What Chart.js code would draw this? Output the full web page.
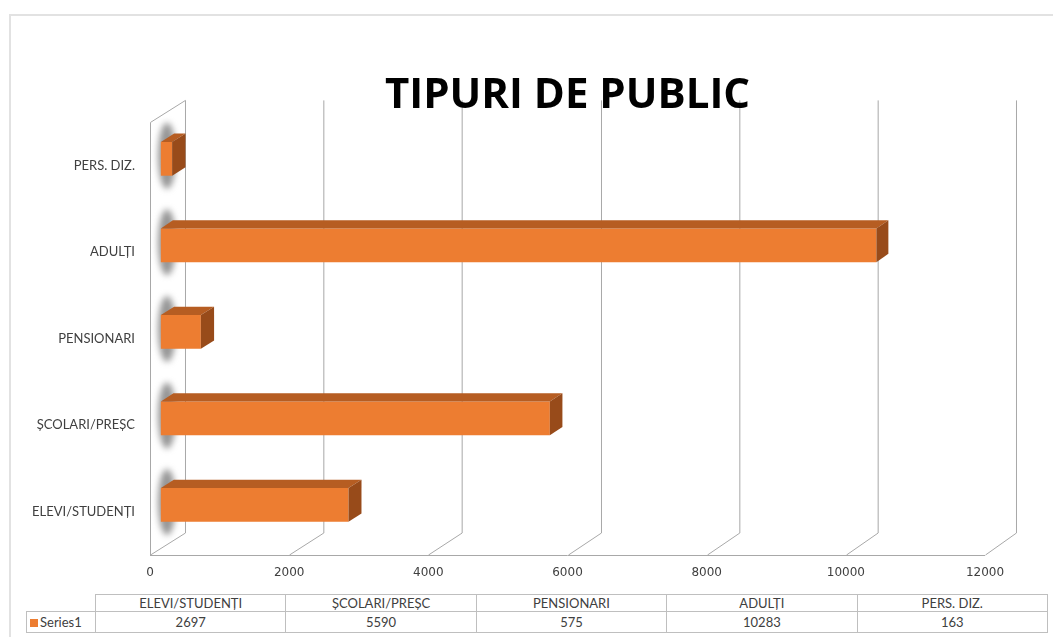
<!DOCTYPE html>
<html>
<head>
<meta charset="utf-8">
<script src="https://cdn.jsdelivr.net/npm/chart.js@4.4.1/dist/chart.umd.min.js"></script>
<style>
body { margin: 0; background: #fff; }
#frame { position: absolute; left: 9px; top: 14px; width: 1100px; height: 700px; border-left: 2px solid #e2e2e2; border-top: 2px solid #e2e2e2; }
#wrap { position: absolute; left: 0; top: 0; width: 1053px; height: 590px; }
#datatable { position: absolute; left: 26px; top: 594px; border-collapse: collapse; table-layout: fixed; width: 1021px;
  font-family: Lato, sans-serif; font-size: 13px; color: #404040; }
#datatable td { border: 1px solid #bfbfbf; text-align: center; padding: 0; white-space: nowrap; }
#datatable tr.head td { height: 16px; line-height: 16px; }
#datatable tr.vals td { height: 20px; line-height: 20px; }
#datatable td.blank { border: none; }
#datatable td.series { text-align: left; padding-left: 3px; }
.swatch { display: inline-block; width: 8px; height: 8px; background: #ED7D31; margin-right: 2px; }
</style>
</head>
<body>
<div id="frame"></div>
<div id="wrap"><canvas id="chart" width="1053" height="590"></canvas></div>
<table id="datatable">
  <colgroup id="cols"></colgroup>
  <tr class="head" id="headrow"></tr>
  <tr class="vals" id="valrow"></tr>
</table>
<script>
// data
const categories = ['ELEVI/STUDENȚI', 'ȘCOLARI/PREȘC', 'PENSIONARI', 'ADULȚI', 'PERS. DIZ.'];
const values = [2697, 5590, 575, 10283, 163];
const seriesName = 'Series1';
const xMin = 0, xMax = 12000, xStep = 2000;

const orange = '#ED7D31';
const orangeTop = '#B65D22';
const orangeSide = '#984B1A';
const gridColor = '#a8a8a8';

// 3d look: depth of the box and where the bars sit inside it
const depthY = -22;
function depthX(chart, px) {
  const a = chart.chartArea;
  return 35 - 4 * (px - a.left) / (a.right - a.left);
}
const barFront = 0.31, barDepth = 0.38;

const box3d = {
  id: 'box3d',
  beforeDraw(chart) {
    const ctx = chart.ctx, a = chart.chartArea, xs = chart.scales.x;
    ctx.save();

    // soft shadows of the bars on the left wall
    const meta = chart.getDatasetMeta(0);
    ctx.filter = 'blur(3px)';
    ctx.fillStyle = 'rgba(115,115,115,0.75)';
    meta.data.forEach(el => {
      ctx.beginPath();
      ctx.ellipse(a.left + 17, el.y + depthY * barFront - 3, 9, 33, 0, 0, Math.PI * 2);
      ctx.fill();
    });
    ctx.filter = 'none';

    ctx.strokeStyle = gridColor;
    ctx.lineWidth = 1;
    xs.ticks.forEach(t => {
      const fx = Math.round(xs.getPixelForValue(t.value)) + 0.5;
      const dx = depthX(chart, fx);
      ctx.beginPath();
      ctx.moveTo(fx, a.bottom);
      ctx.lineTo(fx + dx, a.bottom + depthY);
      ctx.lineTo(fx + dx, a.top + depthY);
      ctx.stroke();
    });
    // floor front edge
    ctx.beginPath();
    ctx.moveTo(a.left, a.bottom + 0.5);
    ctx.lineTo(a.right, a.bottom + 0.5);
    ctx.stroke();
    // left wall front edge + top
    const l = Math.round(a.left) + 0.5;
    ctx.beginPath();
    ctx.moveTo(l, a.bottom);
    ctx.lineTo(l, a.top);
    ctx.lineTo(l + depthX(chart, l), a.top + depthY);
    ctx.stroke();
    ctx.restore();
  },
  beforeDatasetsDraw(chart) {
    const ctx = chart.ctx;
    ctx.save();
    ctx.translate(35 * barFront, depthY * barFront);
  },
  afterDatasetsDraw(chart) {
    const ctx = chart.ctx;
    ctx.restore();
    const meta = chart.getDatasetMeta(0);
    const ox = 35 * barFront, oy = depthY * barFront;
    meta.data.forEach(el => {
      const right = el.x + ox, left = el.base + ox;
      const top = el.y - el.height / 2 + oy, bottom = el.y + el.height / 2 + oy;
      const bx = depthX(chart, el.x) * barDepth, by = depthY * barDepth;
      ctx.fillStyle = orangeTop;
      ctx.beginPath();
      ctx.moveTo(left, top);
      ctx.lineTo(left + bx, top + by);
      ctx.lineTo(right + bx, top + by);
      ctx.lineTo(right, top);
      ctx.closePath();
      ctx.fill();
      ctx.fillStyle = orangeSide;
      ctx.beginPath();
      ctx.moveTo(right, top);
      ctx.lineTo(right + bx, top + by);
      ctx.lineTo(right + bx, bottom + by);
      ctx.lineTo(right, bottom);
      ctx.closePath();
      ctx.fill();
    });
  }
};

new Chart(document.getElementById('chart'), {
  type: 'bar',
  data: {
    labels: categories,
    datasets: [{
      label: seriesName,
      data: values,
      backgroundColor: orange,
      borderWidth: 0,
      barPercentage: 0.39,
      categoryPercentage: 1,
      clip: false
    }]
  },
  options: {
    indexAxis: 'y',
    responsive: false,
    animation: false,
    devicePixelRatio: 1,
    layout: { padding: { left: 0, right: 68, top: 0, bottom: 5 } },
    plugins: {
      legend: { display: false },
      tooltip: { enabled: false },
      title: {
        display: true,
        text: 'TIPURI DE PUBLIC',
        fullSize: false,
        color: '#000',
        font: { family: 'Open Sans', size: 42, weight: 'bold', lineHeight: 1.2 },
        padding: { top: 71, bottom: 1 }
      }
    },
    scales: {
      x: {
        min: xMin,
        max: xMax,
        ticks: {
          stepSize: xStep, padding: 11, color: '#404040',
          font: { family: 'DejaVu Sans', size: 12 },
          callback: v => String(v)
        },
        grid: { display: false, drawTicks: false },
        border: { display: false },
        afterFit(s) { s.height = 30; }
      },
      y: {
        reverse: true,
        ticks: { padding: 15, color: '#404040', font: { family: 'Lato', size: 13 } },
        grid: { display: false, drawTicks: false },
        border: { display: false },
        afterFit(s) { s.width = 150; }
      }
    }
  },
  plugins: [box3d]
});

// data table under the chart
const cols = document.getElementById('cols');
const headrow = document.getElementById('headrow');
const valrow = document.getElementById('valrow');
let c = document.createElement('col');
c.style.width = '69px';
cols.appendChild(c);
let blank = document.createElement('td');
blank.className = 'blank';
headrow.appendChild(blank);
let sc = document.createElement('td');
sc.className = 'series';
sc.innerHTML = '<span class="swatch"></span>' + seriesName;
valrow.appendChild(sc);
for (let index = 0; index < categories.length; index++) {
  let col = document.createElement('col');
  col.style.width = '190.4px';
  cols.appendChild(col);
  let h = document.createElement('td');
  h.textContent = categories[index];
  headrow.appendChild(h);
  let v = document.createElement('td');
  v.textContent = values[index];
  valrow.appendChild(v);
}
</script>
</body>
</html>
